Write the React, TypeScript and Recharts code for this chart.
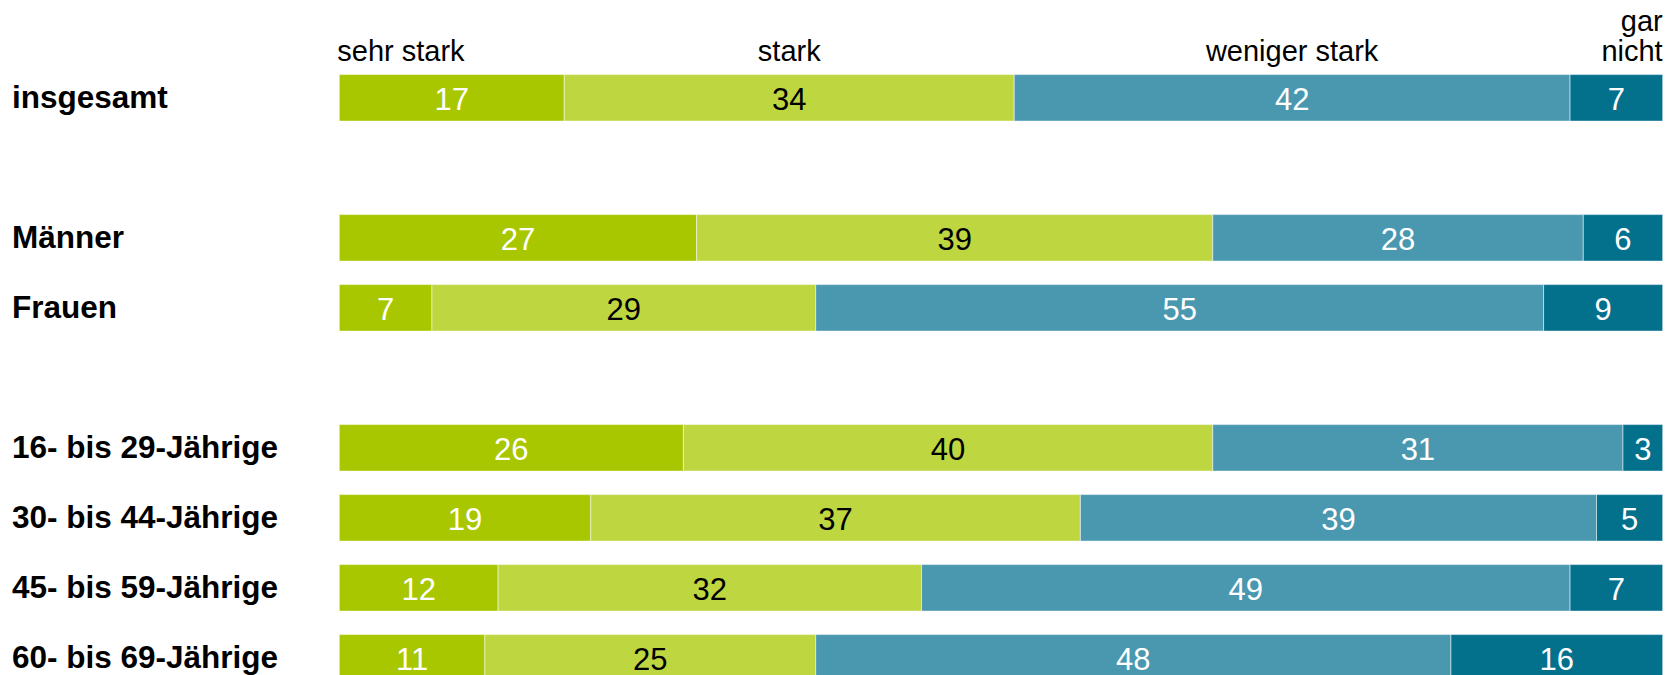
import React from "react";
import { BarChart, Bar, XAxis, YAxis, LabelList } from "recharts";

const categories = [
  "insgesamt",
  " ",
  "Männer",
  "Frauen",
  "  ",
  "16- bis 29-Jährige",
  "30- bis 44-Jährige",
  "45- bis 59-Jährige",
  "60- bis 69-Jährige",
];
const sehrStark = [17, null, 27, 7, null, 26, 19, 12, 11];
const stark = [34, null, 39, 29, null, 40, 37, 32, 25];
const wenigerStark = [42, null, 28, 55, null, 31, 39, 49, 48];
const garNicht = [7, null, 6, 9, null, 3, 5, 7, 16];
const seriesNames = ["sehr stark", "stark", "weniger stark", "gar nicht"];

const FONT = "'Liberation Sans', Arial, Helvetica, sans-serif";

const series = [
  { key: "s1", name: seriesNames[0], values: sehrStark, fill: "#A8C700", text: "#ffffff", anchor: "start" },
  { key: "s2", name: seriesNames[1], values: stark, fill: "#BED63F", text: "#000000", anchor: "middle" },
  { key: "s3", name: seriesNames[2], values: wenigerStark, fill: "#4A98B0", text: "#ffffff", anchor: "middle" },
  { key: "s4", name: seriesNames[3], values: garNicht, fill: "#03708C", text: "#ffffff", anchor: "end" },
];

const data = categories.map((c, i) => {
  const row: any = { cat: c };
  series.forEach((s) => {
    row[s.key] = s.values[i];
  });
  return row;
});

const makeValueLabel = (color: string) => (props: any) => {
  const { x, y, width, height, value } = props;
  if (value === null || value === undefined) return null;
  return (
    <text
      x={Number(x) + Number(width) / 2}
      y={Number(y) + Number(height) / 2 + 12}
      textAnchor="middle"
      fill={color}
      fontSize={31}
      fontFamily={FONT}
    >
      {value}
    </text>
  );
};

const makeHeaderLabel = (name: string, anchor: string) => (props: any) => {
  const { x, y, width, index } = props;
  if (index !== 0) return null;
  const bx = Number(x);
  const bw = Number(width);
  const tx = anchor === "start" ? bx - 2 : anchor === "end" ? bx + bw : bx + bw / 2;
  const estWidth = name.length * 29 * 0.5;
  const lines = estWidth > bw ? name.split(" ") : [name];
  const base = Number(y) - 14;
  return (
    <text textAnchor={anchor} fill="#000000" fontSize={29} fontFamily={FONT}>
      {lines.map((l, i) => (
        <tspan key={i} x={tx} y={base - (lines.length - 1 - i) * 30}>
          {l}
        </tspan>
      ))}
    </text>
  );
};

const RowTick = (props: any) => {
  const { y, payload } = props;
  return (
    <text
      x={4}
      y={Number(y) + 10.5}
      textAnchor="start"
      fill="#000000"
      fontSize={31.5}
      fontWeight="bold"
      fontFamily={FONT}
    >
      {String(payload.value).trim()}
    </text>
  );
};

export default function App() {
  return (
    <div
      style={{
        position: "absolute",
        top: 8,
        left: 8,
        width: 1664,
        height: 667,
        overflow: "hidden",
        background: "#ffffff",
      }}
    >
      <BarChart
        width={1664}
        height={700}
        data={data}
        layout="vertical"
        margin={{ top: 54.6, right: 9.3, bottom: 15.4, left: 0 }}
        barCategoryGap={24}
      >
        <XAxis type="number" domain={[0, 100]} hide />
        <YAxis
          type="category"
          dataKey="cat"
          width={331.3}
          axisLine={false}
          tickLine={false}
          tick={<RowTick />}
          interval={0}
        />
        {series.map((s) => (
          <Bar
            key={s.key}
            dataKey={s.key}
            name={s.name}
            stackId="a"
            fill={s.fill}
            stroke="#ffffff"
            strokeOpacity={0.5}
            strokeWidth={1}
            barSize={46.5}
            isAnimationActive={false}
          >
            <LabelList dataKey={s.key} content={makeValueLabel(s.text)} />
            <LabelList dataKey={s.key} content={makeHeaderLabel(s.name, s.anchor)} />
          </Bar>
        ))}
      </BarChart>
    </div>
  );
}
